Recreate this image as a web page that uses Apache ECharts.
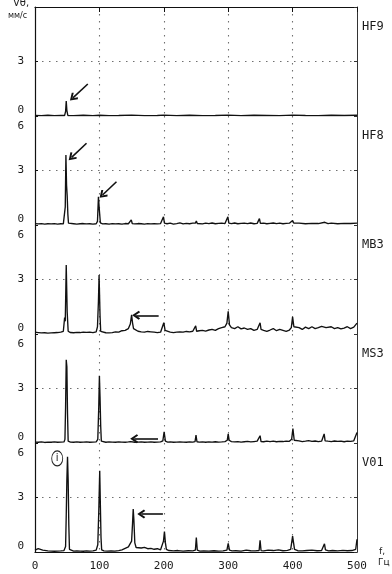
<!DOCTYPE html>
<html><head><meta charset="utf-8">
<script src="https://cdn.jsdelivr.net/npm/echarts@6/dist/echarts.min.js"></script>
<style>html,body{margin:0;padding:0;background:#fff}#c{width:392px;height:574px}</style>
</head><body><div id="c"></div>
<script>
const panelNames = ['HF9','HF8','MB3','MS3','V01'];
const xTickLabels = ['0','100','200','300','400','500'];
const yTickLabels = ['0','3','6'];
const yUnitLabel = 'Vθ,';
const yUnitLabel2 = 'мм/с';
const xUnitLabel = 'f,';
const xUnitLabel2 = 'Гц';

const hf9 = [[0,0.03],[10,0.02],[20,0.04],[30,0.02],[40,0.03],[46,0.03],[47.5,0.25],[48.5,0.83],[49.5,0.3],[51,0.03],[60,0.02],[75,0.04],[90,0.02],[100,0.04],[115,0.02],[130,0.03],[150,0.05],[170,0.02],[190,0.03],[200,0.05],[220,0.02],[240,0.04],[260,0.02],[280,0.03],[300,0.05],[320,0.02],[340,0.04],[360,0.03],[380,0.02],[400,0.05],[420,0.03],[440,0.02],[460,0.04],[480,0.03],[500,0.04]];

const hf8 = [[0,0.08],[5,0.06],[10,0.08],[15,0.05],[20,0.07],[25,0.06],[30,0.08],[35,0.05],[40,0.07],[44,0.06],[46,0.1],[47,1.0],[48,3.85],[49,2.2],[50,1.6],[51,0.6],[52,0.1],[55,0.06],[60,0.07],[65,0.05],[70,0.07],[75,0.08],[80,0.06],[85,0.07],[90,0.05],[95,0.07],[97,0.2],[98.5,1.55],[100,0.8],[101.5,0.12],[105,0.06],[110,0.07],[115,0.05],[120,0.08],[125,0.06],[130,0.07],[135,0.05],[140,0.08],[145,0.07],[148,0.1],[149.5,0.28],[151,0.08],[155,0.06],[160,0.08],[165,0.07],[170,0.05],[175,0.08],[180,0.06],[185,0.07],[190,0.06],[195,0.08],[198,0.12],[199.5,0.45],[201,0.1],[205,0.07],[210,0.1],[215,0.05],[220,0.08],[225,0.12],[230,0.06],[235,0.09],[240,0.07],[245,0.1],[249,0.1],[250.5,0.22],[252,0.08],[255,0.09],[260,0.06],[265,0.1],[270,0.08],[275,0.11],[280,0.07],[285,0.09],[290,0.1],[295,0.08],[298,0.12],[299.5,0.45],[301,0.1],[305,0.08],[310,0.11],[315,0.07],[320,0.09],[325,0.1],[330,0.08],[335,0.11],[340,0.07],[345,0.09],[347,0.1],[348.5,0.35],[350,0.09],[355,0.1],[360,0.07],[365,0.09],[370,0.11],[375,0.08],[380,0.1],[385,0.07],[390,0.09],[395,0.1],[398,0.12],[400,0.25],[402,0.1],[405,0.08],[410,0.1],[420,0.07],[430,0.09],[440,0.08],[450,0.15],[455,0.08],[460,0.1],[470,0.07],[480,0.09],[490,0.08],[500,0.1]];

const mb3 = [[0,0.1],[5,0.08],[10,0.06],[15,0.07],[20,0.05],[25,0.06],[30,0.07],[35,0.08],[40,0.1],[44,0.15],[46,0.9],[47,0.7],[48.5,3.8],[50,1.2],[51.5,0.15],[55,0.08],[60,0.07],[65,0.09],[70,0.08],[75,0.1],[80,0.09],[85,0.1],[90,0.08],[95,0.12],[97,0.4],[98.5,1.8],[99.5,3.25],[101,1.0],[102,0.15],[105,0.08],[110,0.07],[115,0.06],[120,0.08],[125,0.12],[130,0.1],[135,0.18],[140,0.2],[145,0.3],[148,0.55],[150,1.05],[151.5,0.6],[153,0.3],[155,0.2],[160,0.15],[165,0.12],[170,0.1],[175,0.14],[180,0.12],[185,0.1],[190,0.08],[195,0.1],[198,0.2],[200,0.62],[202,0.2],[205,0.12],[210,0.1],[215,0.08],[220,0.1],[225,0.12],[230,0.1],[235,0.14],[240,0.12],[245,0.15],[248,0.18],[249.5,0.45],[251,0.15],[255,0.18],[260,0.2],[265,0.16],[270,0.22],[275,0.25],[280,0.2],[285,0.3],[290,0.35],[295,0.4],[298,0.6],[300,1.25],[302,0.5],[305,0.35],[310,0.3],[315,0.4],[320,0.28],[325,0.33],[330,0.25],[335,0.3],[340,0.2],[345,0.25],[348,0.3],[349.5,0.62],[351,0.25],[355,0.2],[360,0.15],[365,0.22],[370,0.3],[375,0.18],[380,0.25],[385,0.2],[390,0.15],[395,0.22],[398,0.35],[400,0.95],[402,0.4],[405,0.3],[410,0.35],[415,0.25],[420,0.38],[425,0.3],[430,0.4],[435,0.3],[440,0.35],[445,0.42],[448,0.5],[452,0.35],[455,0.3],[460,0.4],[465,0.3],[470,0.35],[475,0.28],[480,0.32],[485,0.4],[490,0.3],[495,0.38],[500,0.6]];

const ms3 = [[0,0.05],[5,0.04],[10,0.06],[15,0.03],[20,0.05],[25,0.04],[30,0.06],[35,0.04],[40,0.05],[45,0.06],[46.5,0.2],[47.5,2.0],[48.5,4.58],[49.5,4.2],[50.5,1.6],[51.5,0.1],[55,0.05],[60,0.04],[65,0.06],[70,0.04],[75,0.05],[80,0.06],[85,0.04],[90,0.05],[95,0.06],[97.5,0.2],[99,2.0],[100,3.7],[101,2.5],[102,0.95],[103,0.1],[106,0.05],[110,0.04],[115,0.06],[120,0.05],[125,0.04],[130,0.06],[135,0.05],[140,0.04],[145,0.06],[148.5,0.08],[150,0.18],[151.5,0.06],[155,0.04],[160,0.05],[165,0.06],[170,0.04],[175,0.05],[180,0.06],[185,0.04],[190,0.05],[195,0.06],[198.5,0.12],[200.5,0.62],[202.5,0.1],[206,0.05],[210,0.06],[215,0.04],[220,0.05],[225,0.06],[230,0.05],[235,0.04],[240,0.06],[245,0.05],[248.5,0.08],[250,0.44],[251.5,0.07],[255,0.05],[260,0.06],[265,0.04],[270,0.06],[275,0.05],[280,0.07],[285,0.05],[290,0.06],[295,0.08],[298.5,0.15],[300,0.5],[301.5,0.15],[305,0.08],[310,0.06],[315,0.08],[320,0.05],[325,0.07],[330,0.09],[335,0.06],[340,0.08],[345,0.1],[348,0.08],[349.5,0.4],[351,0.08],[355,0.07],[360,0.1],[365,0.08],[370,0.1],[375,0.07],[380,0.09],[385,0.08],[390,0.1],[395,0.09],[398.5,0.2],[400.5,0.8],[402.5,0.15],[405,0.1],[410,0.12],[415,0.08],[420,0.1],[425,0.13],[430,0.09],[435,0.11],[440,0.08],[445,0.1],[447.5,0.15],[449,0.5],[450.5,0.12],[455,0.1],[460,0.08],[465,0.11],[470,0.09],[475,0.1],[480,0.07],[485,0.1],[490,0.09],[495,0.12],[498,0.2],[500,0.58]];

const v01 = [[0,0.1],[2,0.2],[5,0.18],[8,0.15],[12,0.1],[15,0.08],[20,0.06],[25,0.05],[30,0.04],[35,0.05],[40,0.06],[45,0.08],[47.5,0.3],[48.5,2.0],[49.5,4.0],[50.5,5.24],[51.5,3.95],[52.5,1.5],[53.5,0.15],[56,0.06],[60,0.05],[65,0.06],[70,0.05],[75,0.04],[80,0.06],[85,0.05],[90,0.06],[95,0.1],[97.5,0.4],[99,2.2],[100.5,4.47],[101.5,2.6],[102.5,0.8],[103.5,0.12],[107,0.06],[112,0.05],[118,0.06],[124,0.05],[130,0.08],[135,0.12],[140,0.2],[145,0.28],[148,0.35],[150,0.6],[151.5,1.6],[152.5,2.36],[153.5,1.8],[155,0.5],[157,0.25],[160,0.2],[165,0.22],[170,0.25],[175,0.18],[180,0.2],[185,0.15],[190,0.18],[195,0.12],[198,0.2],[199.5,0.6],[201,1.12],[202.5,0.5],[204,0.15],[208,0.08],[215,0.06],[222,0.08],[230,0.05],[238,0.07],[245,0.06],[249,0.1],[250.5,0.8],[252,0.1],[256,0.05],[262,0.06],[270,0.05],[278,0.07],[285,0.05],[292,0.06],[298,0.1],[300,0.48],[302,0.1],[306,0.06],[312,0.07],[320,0.05],[328,0.1],[335,0.07],[342,0.06],[348,0.08],[349.5,0.65],[351,0.08],[355,0.06],[362,0.1],[370,0.08],[378,0.12],[385,0.07],[392,0.09],[397,0.15],[398.5,0.5],[400,0.87],[401.5,0.5],[403,0.15],[408,0.07],[415,0.06],[422,0.08],[430,0.1],[438,0.07],[445,0.08],[448,0.12],[449.5,0.45],[451,0.12],[456,0.06],[462,0.08],[470,0.06],[478,0.09],[485,0.07],[492,0.08],[498,0.15],[500,0.7]];

const spectra = [hf9, hf8, mb3, ms3, v01];

// annotation arrows: [tail, head] in (Hz, value) units
const arrowsHF9 = [[[82,1.76],[58.8,1.0]]];
const arrowsHF8 = [[[80,4.5],[56.8,3.72]], [[126.5,2.38],[104.8,1.65]]];
const arrowsMB3 = [[[192,1.03],[157,1.03]]];
const arrowsMS3 = [[[191,0.24],[154,0.24]]];
const arrowsV01 = [[[198.6,2.09],[165,2.09]]];
const arrows = [arrowsHF9, arrowsHF8, arrowsMB3, arrowsMS3, arrowsV01];
const circleV01 = [34.5, 5.15];
const circleLabel = 'i';

const chart = echarts.init(document.getElementById('c'), null, {renderer:'canvas'});
const L = 35, W = 322, H = 109;
const tops = [7, 116, 225, 334, 443];
const FONT = 'DejaVu Sans Mono';
const dotted = {type:[1.5,5.5], color:'#707070', width:1.1};
const chevron = 'path://M5,0 L10,7 L8.4,8.4 L5,3.6 L1.6,8.4 L0,7 Z';

const grid = [], xAxis = [], yAxis = [], series = [];
for (let i = 0; i < 5; i++) {
  grid.push({left:L, top:tops[i], width:W, height:H});
  xAxis.push({
    gridIndex:i, type:'value', min:0, max:500, interval:100,
    axisLine:{show:i===4, onZero:false, lineStyle:{color:'#111', width:1.2}},
    axisTick:{show:false},
    axisLabel:{show:i===4, margin:9, fontFamily:FONT, fontSize:11, color:'#1a1a1a',
      formatter:v => xTickLabels[Math.round(v/100)]},
    splitLine:{show:true, showMinLine:false, showMaxLine:false, lineStyle:dotted}
  });
  yAxis.push({
    gridIndex:i, type:'value', min:0, max:6, interval:3, position:'left',
    axisLine:{show:true, onZero:false, lineStyle:{color:'#111', width:1.2}},
    axisTick:{show:true, inside:true, length:3, lineStyle:{color:'#111'}},
    axisLabel:{show:true, margin:11, fontFamily:FONT, fontSize:11, color:'#1a1a1a',
      showMaxLabel:i>0, verticalAlignMinLabel:'bottom', verticalAlignMaxLabel:'top',
      formatter:v => {
        const k = Math.round(v/3);
        return k === 2 ? '{t|' + yTickLabels[k] + '}' : yTickLabels[k];
      },
      rich:{t:{padding:[5,0,0,0], fontFamily:FONT, fontSize:11, color:'#1a1a1a'}}},
    splitLine:{show:true, showMinLine:false, showMaxLine:false, lineStyle:dotted}
  });
  yAxis.push({
    gridIndex:i, type:'value', min:0, max:6, interval:3, position:'right',
    axisLine:{show:true, onZero:false, lineStyle:{color:'#333', width:1}},
    axisTick:{show:true, inside:true, length:3, lineStyle:{color:'#333'}},
    axisLabel:{show:false}, splitLine:{show:false}
  });
  const s = {
    type:'line', xAxisIndex:i, yAxisIndex:2*i, data:spectra[i],
    showSymbol:false, symbol:'none', animation:false, silent:true,
    lineStyle:{color:'#111', width:1.35},
    markLine:{silent:true, animation:false, symbol:['none', chevron], symbolSize:[9,8],
      lineStyle:{color:'#111', width:1.6, type:'solid'}, label:{show:false},
      data: arrows[i].map(a => [{coord:a[0]}, {coord:a[1]}])}
  };
  if (i === 4) {
    s.markPoint = {silent:true, animation:false, symbol:'circle', symbolSize:[11,15],
      itemStyle:{color:'rgba(0,0,0,0)', borderColor:'#222', borderWidth:1},
      label:{show:true, position:'inside', formatter:circleLabel, color:'#222', fontSize:10, fontFamily:'DejaVu Sans'},
      data:[{coord:circleV01}]};
  }
  series.push(s);
}
// top border with ticks
xAxis.push({gridIndex:0, type:'value', min:0, max:500, interval:100, position:'top',
  axisLine:{show:true, onZero:false, lineStyle:{color:'#111', width:1.2}},
  axisTick:{show:true, inside:true, length:5, lineStyle:{color:'#111'}},
  axisLabel:{show:false}, splitLine:{show:false}});

const graphic = panelNames.map((n, i) => ({type:'text', left:362, top:tops[i]+14,
  style:{text:n, fontFamily:FONT, fontSize:12, fill:'#1a1a1a'}}));
graphic.push({type:'text', left:13, top:-2, style:{text:yUnitLabel, fontFamily:'DejaVu Sans', fontSize:10, fill:'#222'}});
graphic.push({type:'text', left:8, top:12, style:{text:yUnitLabel2, fontFamily:'DejaVu Sans', fontSize:8, fill:'#222'}});
graphic.push({type:'text', left:379, top:547, style:{text:xUnitLabel, fontFamily:'DejaVu Sans', fontSize:9, fill:'#222'}});
graphic.push({type:'text', left:378, top:558, style:{text:xUnitLabel2, fontFamily:'DejaVu Sans', fontSize:9, fill:'#222'}});

chart.setOption({animation:false, backgroundColor:'#fff', grid, xAxis, yAxis, series, graphic});
</script></body></html>
